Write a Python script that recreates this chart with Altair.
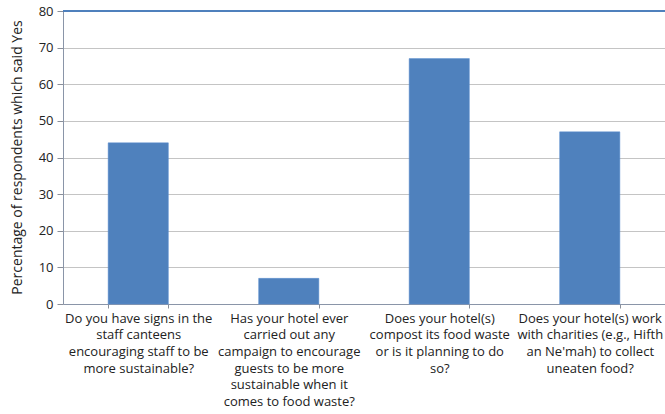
import altair as alt
import pandas as pd

questions = [
    "Do you have signs in the|staff canteens|encouraging staff to be|more sustainable?",
    "Has your hotel ever|carried out any|campaign to encourage|guests to be more|sustainable when it|comes to food waste?",
    "Does your hotel(s)|compost its food waste|or is it planning to do|so?",
    "Does your hotel(s) work|with charities (e.g., Hifth|an Ne'mah) to collect|uneaten food?",
]
percent_yes = [44, 7, 67, 47]
y_ticks = [0, 10, 20, 30, 40, 50, 60, 70, 80]

df = pd.DataFrame({"q": questions, "v": percent_yes})

y_axis = alt.Axis(values=y_ticks, tickSize=6, tickColor="#8a8f99", labelOverlap=False,
                  domainColor="#8a95a8", gridColor="#c4c4c4", labelPadding=4,
                  labelFont="Open Sans", labelFontSize=13, labelColor="#222",
                  titleFont="Open Sans", titleFontSize=14, titleFontWeight="normal",
                  titleColor="#222", titleX=-46, titleY=146, titleAngle=-90,
                  titleAlign="center", titleBaseline="middle")
y_scale = alt.Scale(domain=[0, 80])
y_title = "Percentage of respondents which said Yes"

base = alt.Chart(df)

bars = base.mark_bar(color="#4f81bd", stroke="#5b8fd0", strokeWidth=0.5).encode(
    x=alt.X("q:N", sort=questions, title=None,
            scale=alt.Scale(paddingInner=0.6, paddingOuter=0.3),
            axis=alt.Axis(labelAngle=0, labelExpr="split(datum.label, '|')",
                          labelFont="Open Sans", labelFontSize=13, labelColor="#222",
                          labelLineHeight=16.7, labelPadding=4, labelLimit=0,
                          labelBaseline="top",
                          tickBand="extent", tickSize=4, tickColor="#8a8f99",
                          domainColor="#8a95a8", grid=False)),
    y=alt.Y("v:Q", title=y_title, scale=y_scale, axis=y_axis),
)

top_border = base.mark_rule(color="#4f81bd", strokeWidth=1.5).encode(
    y=alt.Y(datum=80, title=y_title, scale=y_scale, axis=y_axis)
)

chart = alt.layer(bars, top_border).properties(
    width=602, height=293,
    autosize=alt.AutoSizeParams(type="none"),
    padding={"left": 63, "top": 11, "right": 0, "bottom": 110},
).configure_view(stroke=None)

chart.save("out.html", embed_options={"renderer": "svg", "actions": False})
